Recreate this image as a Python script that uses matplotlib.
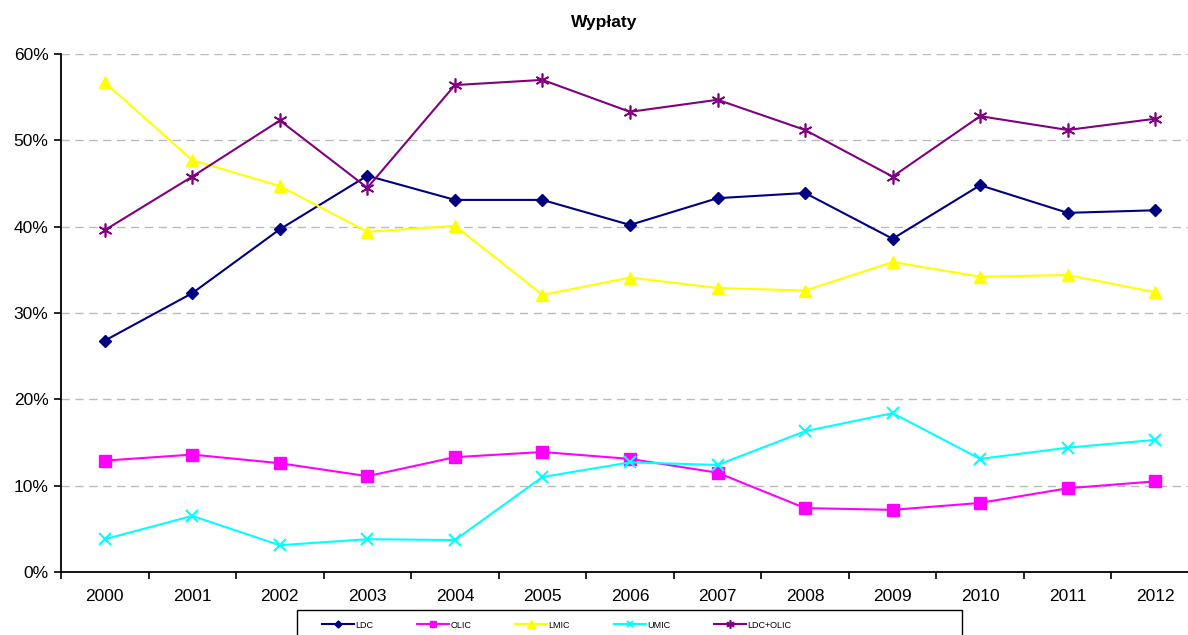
import matplotlib.pyplot as plt
from matplotlib.patches import Rectangle
from matplotlib.ticker import FuncFormatter, FixedLocator, NullFormatter

plt.rcParams['font.family'] = ['Liberation Sans', 'DejaVu Sans']

lata = ['2000', '2001', '2002', '2003', '2004', '2005', '2006',
        '2007', '2008', '2009', '2010', '2011', '2012']

ldc = [26.8, 32.3, 39.7, 45.9, 43.1, 43.1, 40.2, 43.3, 43.9, 38.6, 44.8, 41.6, 41.9]
olic = [12.9, 13.6, 12.6, 11.1, 13.3, 13.9, 13.1, 11.5, 7.4, 7.2, 8.0, 9.7, 10.5]
lmic = [56.7, 47.7, 44.7, 39.4, 40.1, 32.1, 34.1, 32.9, 32.6, 35.9, 34.2, 34.4, 32.4]
umic = [3.8, 6.5, 3.1, 3.8, 3.7, 11.0, 12.7, 12.4, 16.3, 18.4, 13.1, 14.4, 15.3]
ldc_olic = [39.6, 45.8, 52.3, 44.5, 56.4, 57.0, 53.3, 54.7, 51.2, 45.8, 52.8, 51.2, 52.5]

W, H = 1188, 635
fig = plt.figure(figsize=(W / 100, H / 100), dpi=100)
ax = fig.add_axes([61 / W, 1 - 572 / H, (1199 - 61) / W, (572 - 54) / H])

x = list(range(len(lata)))
ax.plot(x, ldc, color='#000080', marker='D', markersize=6, linewidth=1.5, label='LDC')
ax.plot(x, olic, color='#FF00FF', marker='s', markersize=8, linewidth=1.5, label='OLIC')
ax.plot(x, lmic, color='#FFFF00', marker='^', markersize=9, linewidth=1.5, label='LMIC')
ax.plot(x, umic, color='#00FFFF', marker='x', markersize=8, markeredgewidth=1.5,
        linewidth=1.5, label='UMIC')
ax.plot(x, ldc_olic, color='#800080', marker=(6, 2, 0), markersize=10, markeredgewidth=1.2,
        linewidth=1.5, label='LDC+OLIC')

ax.set_xlim(-0.5, len(lata) - 0.5)
ax.set_ylim(0, 60)
ax.set_yticks([0, 10, 20, 30, 40, 50, 60])
ax.yaxis.set_major_formatter(FuncFormatter(lambda v, p: f'{v:.0f}%'))
ax.grid(axis='y', color='#bbbbbb', linestyle=(0, (6, 4)), linewidth=1)
ax.set_axisbelow(True)

# etykiety kategorii pomiedzy kreskami
ax.xaxis.set_major_locator(FixedLocator([i - 0.5 for i in range(len(lata) + 1)]))
ax.xaxis.set_major_formatter(NullFormatter())
ax.xaxis.set_minor_locator(FixedLocator(x))
ax.set_xticklabels(lata, minor=True)
ax.tick_params(axis='x', which='minor', length=0, pad=12, labelsize=12.5)
ax.tick_params(axis='x', which='major', length=5, direction='out', width=1.2)
ax.tick_params(axis='y', length=5, direction='out', width=1.2, labelsize=12.5, pad=4)

for s in ['top', 'right']:
    ax.spines[s].set_visible(False)
ax.spines['left'].set_linewidth(1.3)
ax.spines['bottom'].set_linewidth(1.3)

fig.text(604 / W, 1 - 22 / H, 'Wypłaty', ha='center', va='center',
         fontsize=12.5, fontweight='bold')

# ramka legendy (wychodzi poza dol obrazka)
fig.patches.append(Rectangle((297 / W, 1 - 645 / H), (962 - 297) / W, 35 / H,
                             transform=fig.transFigure, fill=False,
                             edgecolor='black', linewidth=1.0))
leg = fig.legend(loc='center left', bbox_to_anchor=(318 / W, 1 - 625 / H),
                 ncol=5, fontsize=6.5, frameon=False, borderaxespad=0,
                 handlelength=3.6, handletextpad=0.15, columnspacing=4.8,
                 markerscale=0.6)

fig.savefig('out.png', dpi=100)
